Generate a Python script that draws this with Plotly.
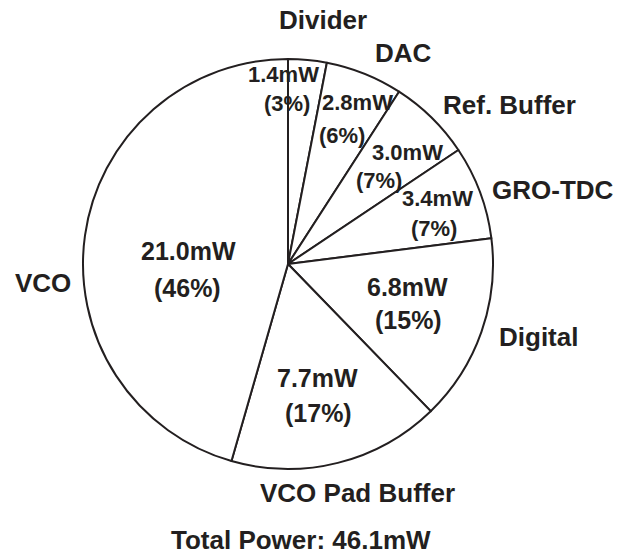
import plotly.graph_objects as go

# Power breakdown of the PLL blocks (mW), clockwise from 12 o'clock
blocks = ["Divider", "DAC", "Ref. Buffer", "GRO-TDC", "Digital", "VCO Pad Buffer", "VCO"]
power_mw = [1.4, 2.8, 3.0, 3.4, 6.8, 7.7, 21.0]

total = sum(power_mw)
value_text = [f"{v:.1f}mW" for v in power_mw]
pct_text = [f"({round(v / total * 100)}%)" for v in power_mw]

W, H = 618, 557
cx, cy, r = 288, 264, 205  # pie centre and radius in pixels

INK = "#231f20"
FONT = "Liberation Sans, Arial, Helvetica, sans-serif"

fig = go.Figure(
    go.Pie(
        labels=blocks,
        values=power_mw,
        sort=False,
        direction="clockwise",
        rotation=0,
        textinfo="none",
        hoverinfo="label+value+percent",
        marker=dict(colors=["white"] * len(blocks), line=dict(color=INK, width=2)),
        showlegend=False,
        domain=dict(
            x=[(cx - r) / W, (cx + r) / W],
            y=[(H - cy - r) / H, (H - cy + r) / H],
        ),
    )
)

# label placement (pixel coordinates): block name, value line, percent line
name_pos = [(323, 20), (403, 53), (509, 105), (553, 190), (538, 337), (357, 493), (43, 283)]
value_pos = [(283, 75), (357, 103), (407, 152), (437, 198), (407, 287), (317, 378), (188, 251)]
pct_pos = [(287, 104), (342, 135), (379, 180), (434, 228), (408, 320), (318, 413), (187, 288)]
big = [False, False, False, False, True, True, True]


def add_text(text, pos, size):
    fig.add_annotation(
        text=f"<b>{text}</b>",
        x=pos[0] / W,
        y=1 - pos[1] / H,
        xref="paper",
        yref="paper",
        xanchor="center",
        yanchor="middle",
        showarrow=False,
        font=dict(family=FONT, size=size, color=INK),
    )


for i, name in enumerate(blocks):
    add_text(name, name_pos[i], 26)
    size = 25 if big[i] else 22
    add_text(value_text[i], value_pos[i], size)
    add_text(pct_text[i], pct_pos[i], size)

add_text(f"Total Power: {total:.1f}mW", (301, 540), 26)

fig.update_layout(
    width=W,
    height=H,
    margin=dict(l=0, r=0, t=0, b=0),
    paper_bgcolor="white",
    plot_bgcolor="white",
    font=dict(family=FONT, color=INK),
)

fig.write_html("out.html", config={"displayModeBar": False})
